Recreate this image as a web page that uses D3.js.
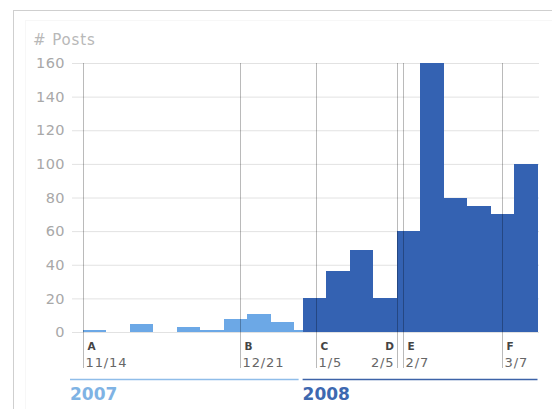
<!DOCTYPE html>
<html>
<head>
<meta charset="utf-8">
<script src="https://cdn.jsdelivr.net/npm/d3@7"></script>
<style>
  body { margin: 0; background: #fff; }
  svg text { font-family: "DejaVu Sans", Verdana, sans-serif; }
</style>
</head>
<body>
<div id="chart"></div>
<script>
// weekly post counts, 2007 ends part way through week 10
const posts2007 = [1, 0, 5, 0, 3, 1, 8, 11, 6, 1];
const posts2008 = [20, 36, 49, 20, 60, 160, 80, 75, 70, 100];
const lastWeek2007 = 0.35; // fraction of the last 2007 week
const yTicks = [0, 20, 40, 60, 80, 100, 120, 140, 160];

// events, positioned in weeks from A
const eventWeek = [0, 6.68, 9.92, 13.37, 13.62, 17.84];
const eventLetter = ['A', 'B', 'C', 'D', 'E', 'F'];
const eventDate = ['11/14', '12/21', '1/5', '2/5', '2/7', '3/7'];
const eventAlign = ['start', 'start', 'start', 'end', 'start', 'start'];

const years = ['2007', '2008'];

const width = 552;
const height = 409;
const light = '#6ca8e6';
const dark = '#3462b2';

const svg = d3.select('#chart')
  .append('svg')
  .attr('width', width)
  .attr('height', height);

// frame
svg.append('rect')
  .attr('x', 13.5).attr('y', 10.5)
  .attr('width', 600).attr('height', 500)
  .attr('fill', 'none')
  .attr('stroke', '#cfcfcf');
svg.append('rect')
  .attr('x', 25.5).attr('y', 20.5)
  .attr('width', 600).attr('height', 500)
  .attr('fill', 'none')
  .attr('stroke', '#f7f7f7');

const split = posts2007.length - 1 + lastWeek2007;
const total = split + posts2008.length;

const x = d3.scaleLinear().domain([0, total]).range([83, 537.5]);
const y = d3.scaleLinear().domain([0, 160]).range([332, 63]);

// y axis with gridlines
const yAxis = d3.axisLeft(y)
  .tickValues(yTicks)
  .tickSize(-(539 - 72))
  .tickPadding(7);

const gy = svg.append('g')
  .attr('class', 'y axis')
  .attr('transform', 'translate(72,0)')
  .call(yAxis);
gy.select('.domain').remove();
gy.selectAll('.tick line').attr('stroke', '#e2e2e2');
gy.selectAll('.tick text')
  .attr('fill', '#a8a8a8')
  .style('font-size', '14.5px')
  .style('letter-spacing', '0.4px');

svg.append('text')
  .attr('x', 33)
  .attr('y', 45)
  .attr('fill', '#b8b8b8')
  .style('font-size', '15px')
  .style('letter-spacing', '0.9px')
  .text('# Posts');

// bars
const bars = [];
posts2007.forEach((v, i) => {
  const w = i === posts2007.length - 1 ? lastWeek2007 : 1;
  bars.push({ x0: i, x1: i + w, v, c: light });
});
posts2008.forEach((v, i) => {
  bars.push({ x0: split + i, x1: split + i + 1, v, c: dark });
});

svg.append('g')
  .attr('class', 'bars')
  .attr('shape-rendering', 'crispEdges')
  .selectAll('rect')
  .data(bars)
  .enter()
  .append('rect')
  .attr('x', d => Math.round(x(d.x0)))
  .attr('width', d => Math.round(x(d.x1)) - Math.round(x(d.x0)))
  .attr('y', d => Math.round(y(d.v)))
  .attr('height', d => Math.round(y(0)) - Math.round(y(d.v)))
  .attr('fill', d => d.c);

// event markers
const ev = svg.append('g')
  .attr('class', 'events')
  .selectAll('g')
  .data(eventWeek.map((w, i) => ({ w, letter: eventLetter[i], date: eventDate[i], align: eventAlign[i] })))
  .enter()
  .append('g')
  .attr('transform', d => `translate(${Math.round(x(d.w)) + 0.5},0)`);

ev.append('line')
  .attr('y1', y(160))
  .attr('y2', 368)
  .attr('stroke', '#000')
  .attr('stroke-opacity', 0.27);

ev.append('text')
  .attr('x', d => (d.align === 'end' ? -3 : 4))
  .attr('y', 350)
  .attr('text-anchor', d => d.align)
  .attr('fill', '#444')
  .style('font-size', '10.5px')
  .style('font-weight', 'bold')
  .style('letter-spacing', '0.5px')
  .text(d => d.letter);

ev.append('text')
  .attr('x', d => (d.align === 'end' ? -3 : 2))
  .attr('y', 366.5)
  .attr('text-anchor', d => d.align)
  .attr('fill', '#666')
  .style('font-size', '13px')
  .style('letter-spacing', '0.9px')
  .text(d => d.date);

// year axis
const yearSpans = [
  { label: years[0], x0: 70, x1: x(split) - 4, line: '#8fbde9', text: '#7fb3e4' },
  { label: years[1], x0: x(split), x1: x(total), line: '#3d63a8', text: '#3d68b0' },
];

const yr = svg.append('g').attr('class', 'years')
  .selectAll('g')
  .data(yearSpans)
  .enter()
  .append('g');

yr.append('line')
  .attr('x1', d => d.x0)
  .attr('x2', d => d.x1)
  .attr('y1', 379.5)
  .attr('y2', 379.5)
  .attr('stroke', d => d.line)
  .attr('stroke-width', 1.5);

yr.append('text')
  .attr('x', d => d.x0)
  .attr('y', 400)
  .attr('fill', d => d.text)
  .style('font-size', '17px')
  .style('font-weight', 'bold')
  .text(d => d.label);
</script>
</body>
</html>
